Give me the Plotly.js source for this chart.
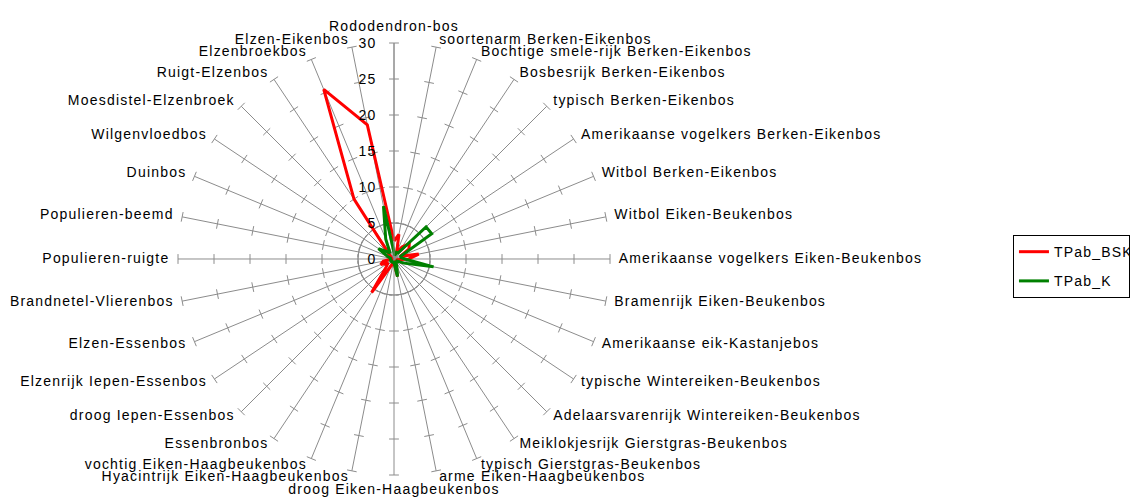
<!DOCTYPE html>
<html>
<head>
<meta charset="utf-8">
<script src="https://cdn.plot.ly/plotly-3.0.1.min.js"></script>
<style>
html,body{margin:0;padding:0;background:#fff;}
#chart{width:1142px;height:503px;}
.main-svg text{letter-spacing:1.2px;}
</style>
</head>
<body>
<div id="chart"></div>
<script>
var categories = [
  "Rododendron-bos",
  "soortenarm Berken-Eikenbos",
  "Bochtige smele-rijk Berken-Eikenbos",
  "Bosbesrijk Berken-Eikenbos",
  "typisch Berken-Eikenbos",
  "Amerikaanse vogelkers Berken-Eikenbos",
  "Witbol Berken-Eikenbos",
  "Witbol Eiken-Beukenbos",
  "Amerikaanse vogelkers Eiken-Beukenbos",
  "Bramenrijk Eiken-Beukenbos",
  "Amerikaanse eik-Kastanjebos",
  "typische Wintereiken-Beukenbos",
  "Adelaarsvarenrijk Wintereiken-Beukenbos",
  "Meiklokjesrijk Gierstgras-Beukenbos",
  "typisch Gierstgras-Beukenbos",
  "arme Eiken-Haagbeukenbos",
  "droog Eiken-Haagbeukenbos",
  "Hyacintrijk Eiken-Haagbeukenbos",
  "vochtig Eiken-Haagbeukenbos",
  "Essenbronbos",
  "droog Iepen-Essenbos",
  "Elzenrijk Iepen-Essenbos",
  "Elzen-Essenbos",
  "Brandnetel-Vlierenbos",
  "Populieren-ruigte",
  "Populieren-beemd",
  "Duinbos",
  "Wilgenvloedbos",
  "Moesdistel-Elzenbroek",
  "Ruigt-Elzenbos",
  "Elzenbroekbos",
  "Elzen-Eikenbos"
];

var tpabBSK = [2.5, 3.5, 1.0, 2.0, 3.0, 2.5, 1.0, 3.5, 2.0, 0.5, 0.5, 0.5, 0.3, 0.5, 0.5, 2.5,
               0.5, 0.5, 1.0, 5.6, 1.5, 1.0, 2.0, 1.5, 0.3, 0.3, 0.5, 0.5, 1.0, 10.0, 25.5, 19.0];
var tpabK   = [1.0, 0.5, 1.0, 1.0, 6.3, 6.3, 1.0, 1.0, 1.5, 5.6, 1.5, 0.5, 0.5, 0.5, 1.0, 2.5,
               0.5, 0.3, 0.5, 0.5, 0.5, 0.3, 0.5, 0.5, 0.5, 0.5, 1.0, 2.6, 1.5, 1.0, 3.0, 7.5];

var seriesNames = ["TPab_BSK", "TPab_K"];
var tickValues = [5, 10, 15, 20, 25, 30];
var gridValue = 5;
var axisMax = 30;

var grey = "#8c8c8c";
var fontFam = "Liberation Sans, Arial, sans-serif";

// spoke tick marks built from categories and tick values
var n = categories.length;
var tkTheta = [], tkR = [], tkAng = [];
for (var i = 0; i < n; i++) {
  for (var j = 0; j < tickValues.length; j++) {
    tkTheta.push(categories[i]);
    tkR.push(tickValues[j]);
    tkAng.push(i * 360 / n);
  }
}

// category labels placed at the spoke ends, Excel style
var lblPos = categories.map(function (c, i) {
  var a = i * 360 / n;
  if (a === 0) return "top center";
  if (a === 180) return "bottom center";
  return a < 180 ? "middle right" : "middle left";
});

function closed(a) { return a.concat([a[0]]); }

var traces = [
  {
    type: "scatterpolar", mode: "lines",
    theta: closed(categories), r: closed(categories.map(function(){ return gridValue; })),
    line: {color: grey, width: 1}, showlegend: false, hoverinfo: "skip"
  },
  {
    type: "scatterpolar", mode: "markers",
    theta: tkTheta, r: tkR,
    marker: {symbol: "line-ew", size: 7, angle: tkAng, line: {color: grey, width: 1}},
    showlegend: false, hoverinfo: "skip"
  },
  {
    type: "scatterpolar", subplot: "polar2", mode: "markers+text",
    theta: categories, r: categories.map(function(){ return axisMax; }),
    text: categories, textposition: lblPos,
    textfont: {family: fontFam, size: 14, color: "#000"},
    marker: {size: 1, opacity: 0},
    cliponaxis: false, showlegend: false, hoverinfo: "skip"
  },
  {
    type: "scatterpolar", mode: "lines", name: seriesNames[0],
    theta: closed(categories), r: closed(tpabBSK),
    line: {color: "#ff0000", width: 3}, legendgroup: "a"
  },
  {
    type: "scatterpolar", mode: "lines", name: seriesNames[1],
    theta: closed(categories), r: closed(tpabK),
    line: {color: "#008000", width: 3}, legendgroup: "b"
  }
];

var layout = {
  width: 1142, height: 503,
  margin: {l: 0, r: 0, t: 0, b: 0},
  paper_bgcolor: "#ffffff",
  font: {family: fontFam, size: 14, color: "#000"},
  showlegend: true,
  hovermode: false,
  legend: {
    x: 0.887, y: 0.47, xanchor: "left", yanchor: "middle",
    bordercolor: "#000", borderwidth: 1, bgcolor: "#fff",
    font: {family: fontFam, size: 14, color: "#000"},
    tracegroupgap: 8
  },
  polar: {
    domain: {x: [0.15587, 0.53415], y: [0.05567, 0.91451]},
    bgcolor: "rgba(0,0,0,0)",
    angularaxis: {
      type: "category", direction: "clockwise", rotation: 90,
      showline: false, showgrid: true, gridcolor: grey, gridwidth: 1,
      ticks: "", showticklabels: false
    },
    radialaxis: {
      range: [0, axisMax], dtick: 5, tick0: 0, angle: 90, side: "counterclockwise",
      tickangle: 90,
      showline: true, linecolor: grey, linewidth: 1, showgrid: false,
      ticks: "outside", ticklen: 12, tickcolor: "rgba(0,0,0,0)",
      tickfont: {family: fontFam, size: 14, color: "#000"}
    }
  },
  // label ring: same centre, slightly larger radius, no visible axes
  polar2: {
    domain: {x: [0.14974, 0.54028], y: [0.04175, 0.92843]},
    bgcolor: "rgba(0,0,0,0)",
    angularaxis: {
      type: "category", direction: "clockwise", rotation: 90,
      showline: false, showgrid: false, ticks: "", showticklabels: false
    },
    radialaxis: {range: [0, axisMax], visible: false}
  }
};

Plotly.newPlot("chart", traces, layout, {displayModeBar: false, staticPlot: true});
</script>
</body>
</html>
